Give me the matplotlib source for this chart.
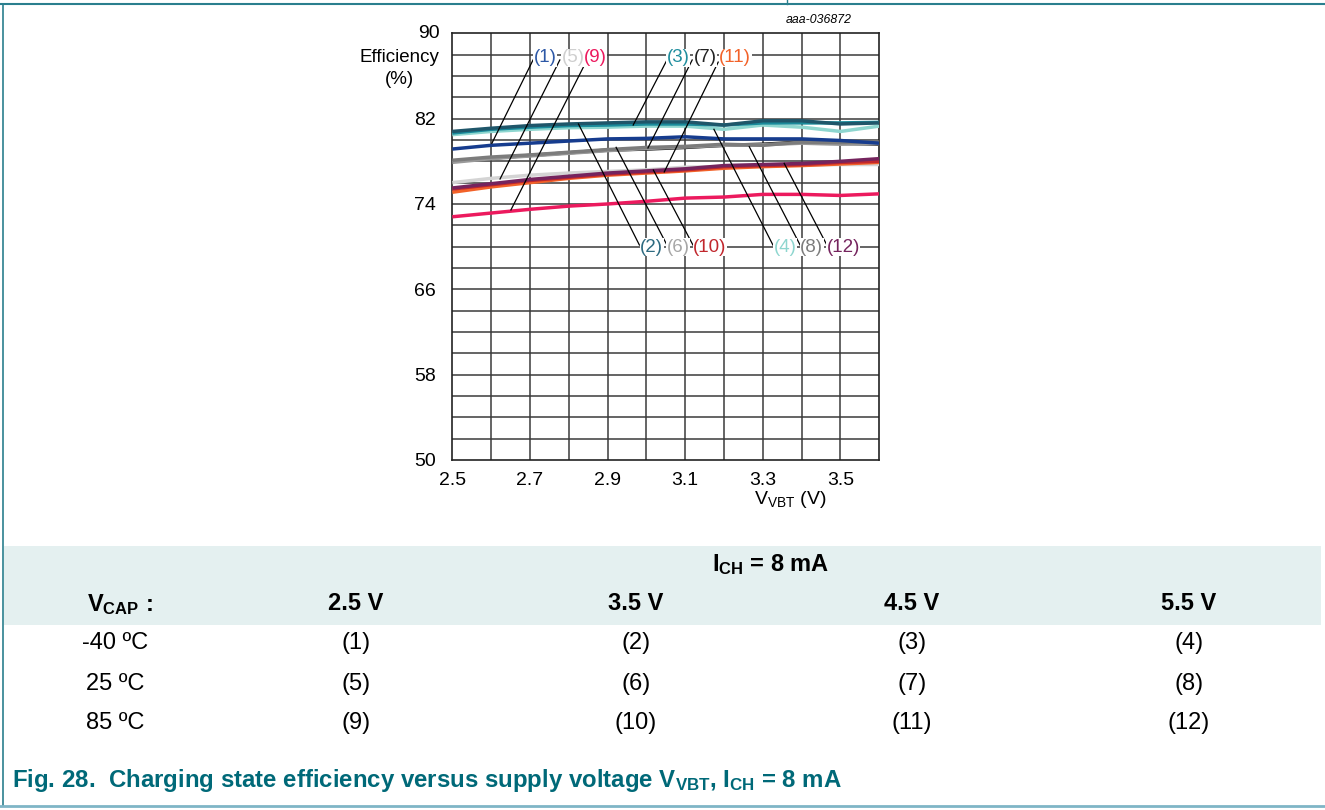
import matplotlib
matplotlib.use("Agg")
import matplotlib.pyplot as plt
from matplotlib.patches import Rectangle
from matplotlib.lines import Line2D
import numpy as np

plt.rcParams['font.family'] = ['Liberation Sans', 'DejaVu Sans']
plt.rcParams['mathtext.fontset'] = 'custom'
plt.rcParams['mathtext.rm'] = 'Liberation Sans'
plt.rcParams['mathtext.it'] = 'Liberation Sans:italic'
plt.rcParams['mathtext.bf'] = 'Liberation Sans:bold'

# ---------------- data ----------------
v_vbt = [2.5, 2.6, 2.7, 2.8, 2.9, 3.0, 3.1, 3.2, 3.3, 3.4, 3.5, 3.6]

eff_1 = [79.15, 79.5, 79.7, 79.9, 80.1, 80.15, 80.3, 80.1, 80.1, 80.1, 79.95, 79.7]
eff_2 = [80.8, 81.1, 81.35, 81.5, 81.6, 81.7, 81.7, 81.4, 81.8, 81.8, 81.5, 81.6]
eff_3 = [80.65, 81.0, 81.2, 81.35, 81.4, 81.5, 81.5, 81.4, 81.6, 81.6, 81.6, 81.65]
eff_4 = [80.5, 80.8, 81.0, 81.15, 81.2, 81.3, 81.3, 81.0, 81.4, 81.2, 80.8, 81.3]
eff_5 = [76.0, 76.4, 76.7, 76.9, 77.05, 77.2, 77.45, 77.5, 77.6, 77.65, 77.7, 77.7]
eff_6 = [77.9, 78.25, 78.5, 78.75, 79.0, 79.2, 79.35, 79.5, 79.55, 79.7, 79.6, 79.65]
eff_7 = [78.0, 78.3, 78.55, 78.8, 79.05, 79.15, 79.3, 79.5, 79.6, 79.8, 79.7, 79.6]
eff_8 = [78.1, 78.4, 78.6, 78.85, 79.1, 79.3, 79.4, 79.6, 79.5, 79.8, 79.75, 79.8]
eff_9 = [72.8, 73.15, 73.5, 73.8, 74.0, 74.25, 74.55, 74.65, 74.9, 74.9, 74.8, 74.95]
eff_10 = [75.4, 75.8, 76.2, 76.5, 76.8, 77.0, 77.2, 77.5, 77.6, 77.7, 77.9, 78.0]
eff_11 = [75.1, 75.6, 76.0, 76.4, 76.7, 76.9, 77.1, 77.35, 77.5, 77.6, 77.75, 77.9]
eff_12 = [75.5, 75.9, 76.3, 76.6, 76.9, 77.1, 77.3, 77.6, 77.7, 77.8, 78.0, 78.25]

curve_ids = ['1', '2', '3', '4', '5', '6', '7', '8', '9', '10', '11', '12']
curves = [eff_1, eff_2, eff_3, eff_4, eff_5, eff_6, eff_7, eff_8, eff_9, eff_10, eff_11, eff_12]
colors = ['#163c8e', '#1f566a', '#1a8b9b', '#8ed6cf', '#d4d4d4', '#9a9a9a',
          '#111111', '#7c7c7c', '#ec1a5e', '#c1272d', '#f26229', '#75245e']
label_colors = ['#2d58a6', '#2d6a80', '#1f8e9e', '#8ed6cf', '#cfcfcf', '#a6a6a6',
                '#222222', '#7c7c7c', '#ec1a5e', '#c1272d', '#f26229', '#75245e']

x_ticks = [2.5, 2.7, 2.9, 3.1, 3.3, 3.5]
y_ticks = [50, 58, 66, 74, 82, 90]

# label positions and leader lines (start, end) in data units
top_labels = {'1': 2.739, '5': 2.811, '9': 2.868, '3': 3.082, '7': 3.151, '11': 3.229}
bot_labels = {'2': 3.014, '6': 3.082, '10': 3.164, '4': 3.357, '8': 3.426, '12': 3.507}
leaders = {
    '1': ((2.708, 87.5), (2.602, 79.69)),
    '5': ((2.777, 87.5), (2.623, 76.34)),
    '9': ((2.847, 87.5), (2.651, 73.44)),
    '3': ((3.053, 87.5), (2.966, 81.4)),
    '7': ((3.118, 87.5), (3.004, 79.25)),
    '11': ((3.185, 87.3), (3.046, 77.0)),
    '2': ((2.982, 70.15), (2.825, 81.5)),
    '6': ((3.053, 70.15), (2.922, 79.31)),
    '10': ((3.120, 70.15), (3.018, 77.18)),
    '4': ((3.326, 70.15), (3.174, 81.0)),
    '8': ((3.396, 70.15), (3.265, 79.37)),
    '12': ((3.465, 70.15), (3.355, 77.81)),
}

# table
table_cols = ['2.5 V', '3.5 V', '4.5 V', '5.5 V']
table_rows = ['-40 ºC', '25 ºC', '85 ºC']
table_ids = [['(1)', '(2)', '(3)', '(4)'],
             ['(5)', '(6)', '(7)', '(8)'],
             ['(9)', '(10)', '(11)', '(12)']]

# ---------------- figure ----------------
W, H = 1325, 810
fig = plt.figure(figsize=(W / 100, H / 100), dpi=100)

def fx(x):
    return x / W

def fy(y):
    return 1 - y / H

ax = fig.add_axes([fx(452.3), fy(460), (879.3 - 452.3) / W, (460 - 33.3) / H])
ax.set_xlim(2.5, 3.6)
ax.set_ylim(50, 90)

# grid
for gx in np.arange(2.6, 3.55, 0.1):
    ax.axvline(gx, color='#3a3a3a', lw=1.1, zorder=1)
for gy in np.arange(52, 89, 2):
    ax.axhline(gy, color='#3a3a3a', lw=1.1, zorder=1)
for s in ax.spines.values():
    s.set_color('#222222')
    s.set_linewidth(1.2)

ax.set_xticks(x_ticks)
ax.set_xticklabels([f'{t:.1f}' for t in x_ticks])
ax.set_yticks(y_ticks)
ax.set_yticklabels([str(t) for t in y_ticks])
ax.tick_params(length=0, labelsize=14)
ax.tick_params(axis='y', pad=12)
ax.tick_params(axis='x', pad=8.5)
ax.get_yticklabels()[-1].set_visible(False)

# curves
order = [8, 4, 10, 9, 11, 6, 5, 7, 0, 3, 2, 1]
for k, i in enumerate(order):
    ax.plot(v_vbt, curves[i], color=colors[i], lw=2.5, zorder=3 + k * 0.01,
            solid_capstyle='butt')

# leader lines and labels
for cid, ((x0, y0), (x1, y1)) in leaders.items():
    ax.plot([x0, x1], [y0, y1], color='black', lw=0.9, zorder=4)
for cid, xpos in top_labels.items():
    i = curve_ids.index(cid)
    ax.text(xpos, 87.7, f'({cid})', color=label_colors[i], fontsize=13.5, ha='center', va='center',
            zorder=5, bbox=dict(facecolor='white', edgecolor='none', pad=0.3))
for cid, xpos in bot_labels.items():
    i = curve_ids.index(cid)
    ax.text(xpos, 69.95, f'({cid})', color=label_colors[i], fontsize=13.5, ha='center', va='center',
            zorder=5, bbox=dict(facecolor='white', edgecolor='none', pad=0.3))

# axis titles
fig.text(fx(440), fy(33.3), '90', fontsize=14, ha='right', va='center')
fig.text(fx(399), fy(57), 'Efficiency', fontsize=13.5, ha='center', va='center')
fig.text(fx(399), fy(80), '(%)', fontsize=13.5, ha='center', va='center')
fig.text(fx(790), fy(500), r'$\mathrm{V_{VBT}}$ (V)', fontsize=14, ha='center', va='center')
fig.text(fx(852), fy(20), 'aaa-036872', fontsize=8.8, style='italic', ha='right', va='center')

# table band
fig.patches.append(Rectangle((fx(4), fy(625)), fx(1321 - 4), (625 - 546) / H,
                             transform=fig.transFigure, facecolor='#e4f0f0', edgecolor='none', zorder=0))
fig.text(fx(771), fy(565), r'$\mathbf{I_{CH}}$ = 8 mA', fontsize=17, fontweight='bold',
         ha='center', va='center')
fig.text(fx(120), fy(605), r'$\mathbf{V_{CAP}}$ :', fontsize=17, fontweight='bold',
         ha='center', va='center')
col_x = [356, 636, 912, 1189]
row_y = [643, 684, 723]
for cx, lab in zip(col_x, table_cols):
    fig.text(fx(cx), fy(604), lab, fontsize=17, fontweight='bold', ha='center', va='center')
for ry, lab, ids in zip(row_y, table_rows, table_ids):
    fig.text(fx(115), fy(ry), lab, fontsize=17, ha='center', va='center')
    for cx, t in zip(col_x, ids):
        fig.text(fx(cx), fy(ry), t, fontsize=17, ha='center', va='center')

# caption
fig.text(fx(12), fy(781), r'Fig. 28.  Charging state efficiency versus supply voltage $\mathbf{V_{VBT}}$, $\mathbf{I_{CH}}$ = 8 mA',
         fontsize=17.3, fontweight='bold', color='#006978', ha='left', va='center')

# frame lines
fig.add_artist(Line2D([0, 1], [fy(3.5), fy(3.5)], transform=fig.transFigure, color='#2a7f8e', lw=1.5))
fig.add_artist(Line2D([fx(787), fx(787)], [1, fy(3.5)], transform=fig.transFigure, color='#2a7f8e', lw=1))
fig.add_artist(Line2D([fx(3), fx(3)], [fy(3.5), fy(806)], transform=fig.transFigure, color='#2a7f8e', lw=1.2))
fig.add_artist(Line2D([0, 1], [fy(806), fy(806)], transform=fig.transFigure, color='#7fb5c6', lw=2))

fig.savefig('out.png', dpi=100)
